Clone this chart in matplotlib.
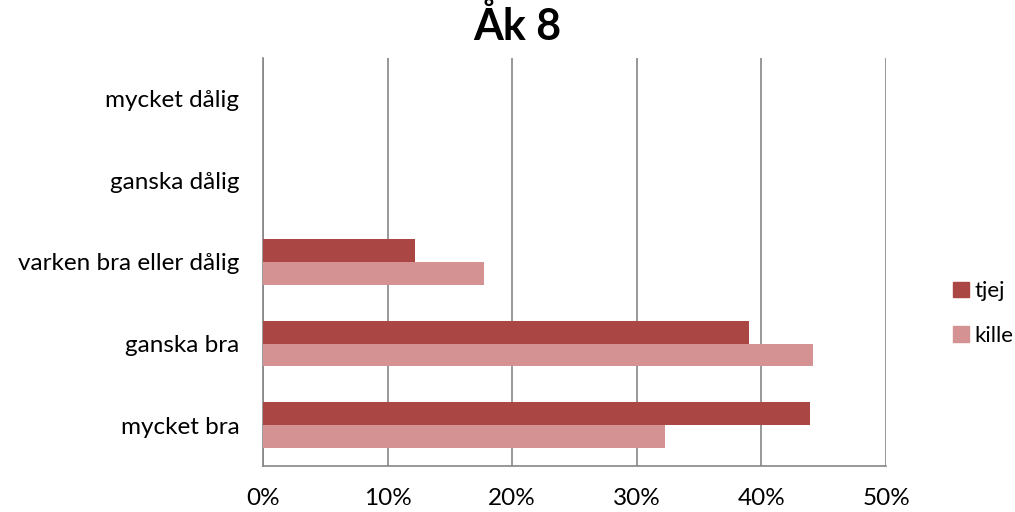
import matplotlib.pyplot as plt
import numpy as np
from matplotlib.patches import Patch
from matplotlib.ticker import PercentFormatter

plt.rcParams['font.family'] = ['Lato', 'DejaVu Sans']

categories = ['mycket bra', 'ganska bra', 'varken bra eller dålig', 'ganska dålig', 'mycket dålig']
tjej = [43.9, 39.0, 12.2, 0, 0]
kille = [32.3, 44.1, 17.7, 0, 0]
xticks = [0, 10, 20, 30, 40, 50]

c_tjej = '#AA4643'
c_kille = '#D49392'
grid_c = '#868686'

fig = plt.figure(figsize=(10.15, 5.12), dpi=100)
ax = fig.add_axes([0.259, 0.09, 0.614, 0.797])

y = np.arange(len(categories))
h = 0.28
ax.barh(y + h / 2, tjej, height=h, color=c_tjej, zorder=3)
ax.barh(y - h / 2, kille, height=h, color=c_kille, zorder=3)

ax.set_xlim(0, 50)
ax.set_ylim(-0.5, len(categories) - 0.5)
ax.set_xticks(xticks)
ax.xaxis.set_major_formatter(PercentFormatter(decimals=0))
ax.set_yticks(y)
ax.set_yticklabels(categories)
ax.tick_params(axis='both', length=0, labelsize=17.5, colors='black')
ax.tick_params(axis='x', pad=16)
ax.tick_params(axis='y', pad=17)
ax.grid(axis='x', color=grid_c, linewidth=1.2, zorder=0)
for s in ['top', 'right']:
    ax.spines[s].set_visible(False)
for s in ['left', 'bottom']:
    ax.spines[s].set_color(grid_c)
    ax.spines[s].set_linewidth(1.2)

fig.suptitle('Åk 8', x=0.51, y=0.99, fontsize=31, fontweight='bold')

handles = [Patch(color=c_tjej, label='tjej'), Patch(color=c_kille, label='kille')]
fig.legend(handles=handles, loc='center left', bbox_to_anchor=(0.928, 0.388),
           frameon=False, fontsize=16, handlelength=0.7, handleheight=0.7,
           handletextpad=0.25, labelspacing=1.1, borderpad=0)

fig.savefig('out.png', dpi=100)
